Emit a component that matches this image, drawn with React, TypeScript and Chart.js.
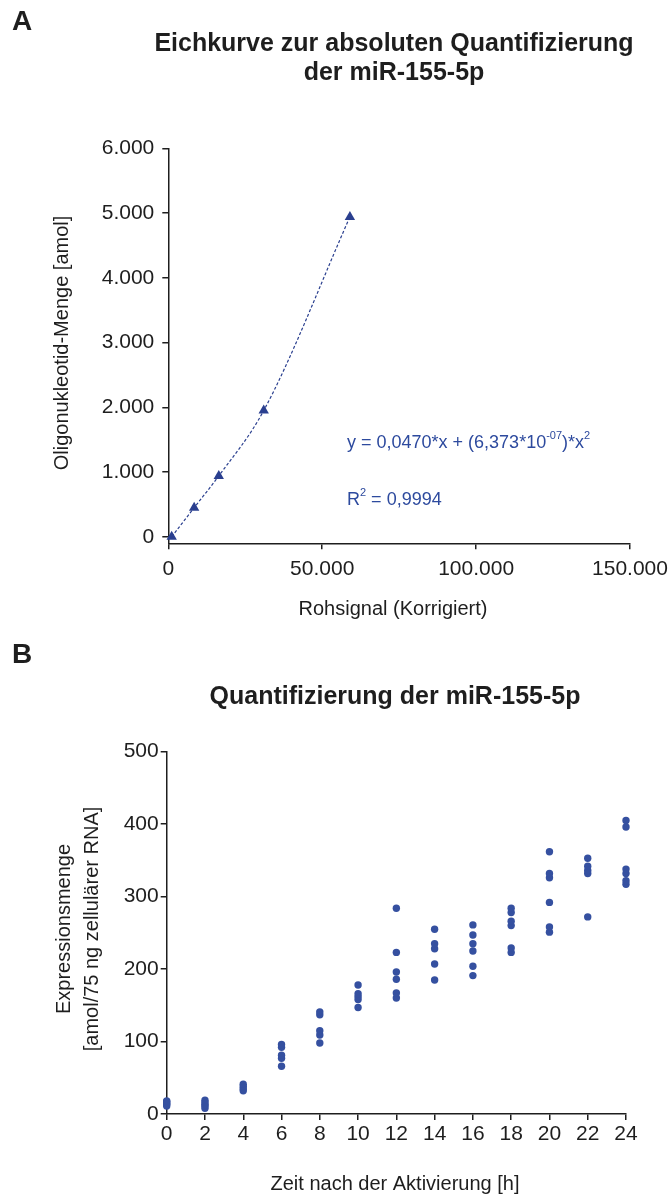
import React, { useEffect, useRef } from 'react';
import { Chart, registerables } from 'chart.js';

Chart.register(...registerables);

const FONT = "'Liberation Sans', Arial, sans-serif";
const INK = '#1e1e1e';

// ---------- Panel A: calibration curve ----------
const rawSignal = [1100, 8400, 16400, 31000, 59000];
const oligoAmount = [0, 450, 940, 1950, 4940];
const xTicksA = [0, 50000, 100000, 150000];
const xTickLabelsA = ['0', '50.000', '100.000', '150.000'];
const yTicksA = [0, 1000, 2000, 3000, 4000, 5000, 6000];
const yTickLabelsA = ['0', '1.000', '2.000', '3.000', '4.000', '5.000', '6.000'];

// ---------- Panel B: quantification over time ----------
const hours = [0, 2, 4, 6, 8, 10, 12, 14, 16, 18, 20, 22, 24];
const h0 = [11, 13, 15, 17, 18];
const h2 = [8, 11, 13, 16, 19];
const h4 = [32, 35, 38, 41];
const h6 = [66, 77, 81, 92, 96];
const h8 = [98, 109, 115, 137, 141];
const h10 = [147, 158, 162, 166, 178];
const h12 = [160, 167, 186, 196, 223, 284];
const h14 = [185, 207, 228, 235, 255];
const h16 = [191, 204, 225, 235, 247, 261];
const h18 = [223, 229, 260, 266, 278, 284];
const h20 = [251, 258, 292, 326, 332, 362];
const h22 = [272, 332, 336, 342, 353];
const h24 = [317, 322, 332, 338, 396, 405];
const replicatesB = [h0, h2, h4, h6, h8, h10, h12, h14, h16, h18, h20, h22, h24];
const yTicksB = [0, 100, 200, 300, 400, 500];
const yTickLabelsB = ['0', '100', '200', '300', '400', '500'];

const W = 671;
const HA = 625;
const HB = 570;

function axis(
  min: number,
  max: number,
  tickValues: number[],
  labels: string[],
  fit: (s: any) => void,
  pad: number,
  size: number,
) {
  return {
    type: 'linear',
    min,
    max,
    afterBuildTicks: (s: any) => {
      s.ticks = tickValues.map((value) => ({ value }));
    },
    ticks: {
      color: INK,
      padding: pad,
      autoSkip: false,
      maxRotation: 0,
      font: { family: FONT, size },
      callback: (_v: any, i: number) => labels[i],
    },
    grid: { display: true, drawOnChartArea: false, drawTicks: true, tickLength: 6, color: INK, lineWidth: 1.5 },
    border: { display: true, color: INK, width: 1.5 },
    afterFit: fit,
  };
}

function textPlugin(draw: (ctx: CanvasRenderingContext2D) => void) {
  return {
    id: 'texts',
    afterDraw(chart: any) {
      const ctx = chart.ctx as CanvasRenderingContext2D;
      ctx.save();
      draw(ctx);
      ctx.restore();
    },
  };
}

function drawLetter(ctx: CanvasRenderingContext2D, letter: string, y: number) {
  ctx.fillStyle = INK;
  ctx.font = `bold 28px ${FONT}`;
  ctx.textAlign = 'left';
  ctx.textBaseline = 'alphabetic';
  ctx.fillText(letter, 12, y);
}

function drawCentered(ctx: CanvasRenderingContext2D, text: string, x: number, y: number, font: string) {
  ctx.fillStyle = INK;
  ctx.font = font;
  ctx.textAlign = 'center';
  ctx.textBaseline = 'alphabetic';
  ctx.fillText(text, x, y);
}

function drawVertical(ctx: CanvasRenderingContext2D, text: string, x: number, y: number) {
  ctx.save();
  ctx.translate(x, y);
  ctx.rotate(-Math.PI / 2);
  ctx.fillStyle = INK;
  ctx.font = `20px ${FONT}`;
  ctx.textAlign = 'center';
  ctx.textBaseline = 'middle';
  ctx.fillText(text, 0, 0);
  ctx.restore();
}

function drawRuns(ctx: CanvasRenderingContext2D, runs: [string, boolean][], x: number, y: number) {
  let cx = x;
  for (const [t, sup] of runs) {
    ctx.font = sup ? `11px ${FONT}` : `18px ${FONT}`;
    ctx.fillText(t, cx, sup ? y - 9 : y);
    cx += ctx.measureText(t).width;
  }
}

const BLUE_A = '#2a3f8f';
const BLUE_TEXT = '#2d4a9e';
const BLUE_B = '#3550a0';

function buildA(canvas: HTMLCanvasElement) {
  const pts = rawSignal.map((x, i) => ({ x, y: oligoAmount[i] }));
  return new Chart(canvas, {
    type: 'scatter',
    data: {
      datasets: [
        {
          data: pts,
          showLine: true,
          cubicInterpolationMode: 'monotone',
          borderColor: BLUE_A,
          borderWidth: 1.2,
          borderDash: [3, 2],
          pointRadius: 0,
          clip: false,
        } as any,
        {
          data: pts,
          pointStyle: 'triangle',
          pointRadius: 6,
          backgroundColor: BLUE_A,
          borderColor: BLUE_A,
          borderWidth: 0,
          clip: false,
        } as any,
      ],
    },
    options: {
      animation: false,
      responsive: false,
      devicePixelRatio: 1,
      layout: { padding: { top: 148.3, right: 41, bottom: 0, left: 0 } },
      plugins: { legend: { display: false }, tooltip: { enabled: false }, title: { display: false } },
      scales: {
        x: axis(0, 150000, xTicksA, xTickLabelsA, (s: any) => {
          s.height = HA - 543.3;
          s.paddingLeft = 0;
          s.paddingRight = 0;
        }, 7, 21),
        y: axis(-100, 6000, yTicksA, yTickLabelsA, (s: any) => {
          s.width = 168.3;
          s.paddingTop = 0;
          s.paddingBottom = 0;
        }, 8, 21),
      } as any,
    },
    plugins: [
      textPlugin((ctx) => {
        drawLetter(ctx, 'A', 30);
        drawCentered(ctx, 'Eichkurve zur absoluten Quantifizierung', 394, 51, `bold 25px ${FONT}`);
        drawCentered(ctx, 'der miR-155-5p', 394, 80, `bold 25px ${FONT}`);
        drawVertical(ctx, 'Oligonukleotid-Menge [amol]', 62, 343);
        drawCentered(ctx, 'Rohsignal (Korrigiert)', 393, 615, `20px ${FONT}`);
        ctx.fillStyle = BLUE_TEXT;
        ctx.textAlign = 'left';
        ctx.textBaseline = 'alphabetic';
        drawRuns(ctx, [['y = 0,0470*x + (6,373*10', false], ['-07', true], [')*x', false], ['2', true]], 347, 448);
        drawRuns(ctx, [['R', false], ['2', true], [' = 0,9994', false]], 347, 505);
      }),
    ] as any,
  } as any);
}

function buildB(canvas: HTMLCanvasElement) {
  const pts: { x: number; y: number }[] = [];
  replicatesB.forEach((vals, i) => vals.forEach((v) => pts.push({ x: hours[i], y: v })));
  const xLabels = hours.map((h) => String(h));
  return new Chart(canvas, {
    type: 'scatter',
    data: {
      datasets: [
        {
          data: pts,
          pointStyle: 'circle',
          pointRadius: 3.7,
          backgroundColor: BLUE_B,
          borderColor: BLUE_B,
          borderWidth: 0,
          clip: false,
        } as any,
      ],
    },
    options: {
      animation: false,
      responsive: false,
      devicePixelRatio: 1,
      layout: { padding: { top: 126.7, right: 45, bottom: 0, left: 0 } },
      plugins: { legend: { display: false }, tooltip: { enabled: false }, title: { display: false } },
      scales: {
        x: axis(0, 24, hours, xLabels, (s: any) => {
          s.height = HB - 489;
          s.paddingLeft = 0;
          s.paddingRight = 0;
        }, 2, 21),
        y: axis(0, 500, yTicksB, yTickLabelsB, (s: any) => {
          s.width = 166.7;
          s.paddingTop = 0;
          s.paddingBottom = 0;
        }, 2, 21),
      } as any,
    },
    plugins: [
      textPlugin((ctx) => {
        drawLetter(ctx, 'B', 38);
        drawCentered(ctx, 'Quantifizierung der miR-155-5p', 395, 79, `bold 25px ${FONT}`);
        drawVertical(ctx, 'Expressionsmenge', 64, 304);
        drawVertical(ctx, '[amol/75 ng zellulärer RNA]', 92, 304);
        drawCentered(ctx, 'Zeit nach der Aktivierung [h]', 395, 565, `20px ${FONT}`);
      }),
    ] as any,
  } as any);
}

function Panel({ height, build }: { height: number; build: (c: HTMLCanvasElement) => Chart }) {
  const ref = useRef<HTMLCanvasElement | null>(null);
  useEffect(() => {
    if (!ref.current) return;
    const chart = build(ref.current);
    return () => chart.destroy();
  }, [build]);
  return <canvas ref={ref} width={W} height={height} style={{ display: 'block', width: W, height }} />;
}

export default function App() {
  return (
    <div style={{ position: 'fixed', left: 0, top: 0, width: W, height: HA + HB, background: '#fff' }}>
      <Panel height={HA} build={buildA} />
      <Panel height={HB} build={buildB} />
    </div>
  );
}
